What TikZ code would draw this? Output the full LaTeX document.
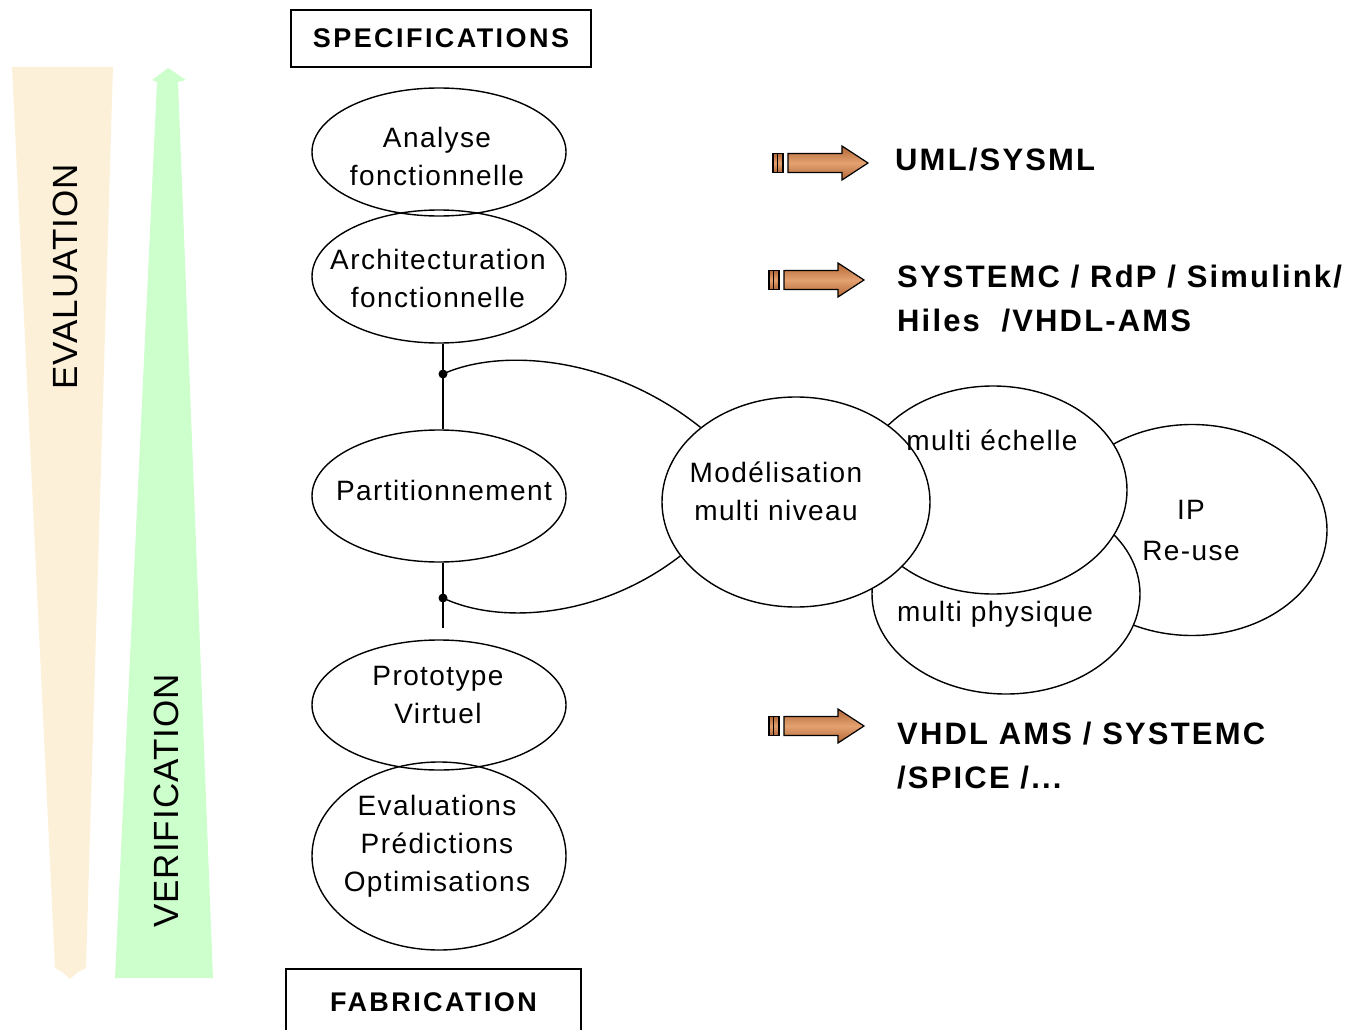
\documentclass[tikz,border=0pt]{standalone}
\usepackage{fontspec}
\setmainfont{Liberation Sans}
\newfontfamily\lsA[LetterSpace=5]{Liberation Sans}
\newfontfamily\lsB[LetterSpace=7]{Liberation Sans}
\newfontfamily\lsC[LetterSpace=9]{Liberation Sans}
\newfontfamily\lsD[LetterSpace=3]{Liberation Sans}
\usetikzlibrary{shapes.geometric}
\definecolor{beigebar}{RGB}{252,240,217}
\definecolor{greenbar}{RGB}{204,255,204}
\definecolor{brownA}{RGB}{178,102,54}
\definecolor{brownB}{RGB}{228,162,112}
\begin{document}
\begin{tikzpicture}[x=1pt,y=-1pt,
  lw/.style={line width=1.4pt},
  stage/.style={draw,lw,ellipse,minimum width=254,minimum height=#1,inner sep=0pt},
  bubble/.style={draw,lw,ellipse,fill=white,minimum width=#1,inner sep=0pt},
  stagetext/.style={align=center,inner sep=0pt,font=\lsA\fontsize{28}{38}\selectfont},
  tooltext/.style={align=left,anchor=west,inner sep=0pt,font=\lsB\fontsize{31}{44}\selectfont\bfseries},
  boxlabel/.style={draw,lw,inner sep=0pt,font=\lsC\fontsize{27}{30}\selectfont\bfseries},
  bartext/.style={rotate=90,inner sep=0pt,font=\lsD\fontsize{35}{40}\selectfont},
  barrow/.style={draw=black,line width=1.2pt,top color=brownA,bottom color=brownA,middle color=brownB,shading angle=0},
  dot/.style={fill=black}]
\useasboundingbox (0,0) rectangle (1352,1030);

% left bars
\fill[beigebar] (12,67) -- (113,67) -- (86,968) -- (78,972) -- (70,979) -- (62,972) -- (55,968) -- cycle;
\node[bartext] (evalT) at (65,277) {EVALUATION};
\fill[greenbar] (168,68) -- (186,80) -- (178,82) -- (213,978) -- (115,978) -- (157,82) -- (152,80) -- cycle;
\node[bartext] (verT) at (166,801) {VERIFICATION};

% boxes
\node[boxlabel,minimum width=300,minimum height=57] (spec) at (441,38.5) {SPECIFICATIONS};
\node[boxlabel,minimum width=295,minimum height=66] (fab) at (433.5,1002) {FABRICATION};

% left stages
\node[stage=128] (ana) at (439,152) {};
\node[stagetext] (anaT) at (437,156) {Analyse\\fonctionnelle};
\node[stage=133] (arch) at (439,276.5) {};
\node[stagetext] (archT) at (438,278) {Architecturation\\fonctionnelle};
\node[stage=132] (part) at (439,496) {};
\node[stagetext] (partT) at (444,490) {Partitionnement};
\node[stage=130] (proto) at (439,705) {};
\node[stagetext] (protoT) at (438,695) {Prototype\\Virtuel};
\node[stage=188] (evo) at (439,856) {};
\node[stagetext] (evoT) at (437,846) {Evaluations\\Prédictions\\Optimisations};

% connectors on the left
\coordinate (d1) at (443,374);
\coordinate (d2) at (443,598);
\coordinate (d2end) at (443,628);
\draw[lw] (d1 |- arch.south) -- (d1 |- part.north);
\draw[lw] (d2 |- part.south) -- (d2end);

% right bubbles
\node[bubble=270,minimum height=211] (ip) at (1192,530) {};
\node[bubble=268,minimum height=200] (phys) at (1006,594) {};
\node[bubble=268,minimum height=208] (ech) at (993,490) {};
\node[bubble=268,minimum height=210] (mod) at (796,502) {};
\node[stagetext] (modT) at (776,491.5) {Modélisation\\multi niveau};
\node[stagetext] (echT) at (992,440) {multi échelle};
\node[stagetext] (physT) at (995,614) {multi physique};
\node[stagetext,font=\lsA\fontsize{28}{41}\selectfont] (ipT) at (1191,530.5) {IP\\Re-use};

\draw[lw] (d1) .. controls (500,348) and (610,355) .. (mod.142);
\draw[lw] (d2) .. controls (500,625) and (600,618) .. (mod.205);
\fill[dot] (d1) circle (4.5);
\fill[dot] (d2) circle (4.5);

% brown arrows
\foreach \ax/\ay/\nm in {772/163/a1, 768/280/a2, 768/726/a3}{
  \begin{scope}[shift={(\ax,\ay)}]
    \draw[barrow] (1,-9.5) rectangle (11,9.5);
    \draw[line width=1.2pt] (5.5,-9.5) -- (5.5,9.5);
    \draw[barrow] (16,-9.5) -- (70,-9.5) -- (70,-17) -- (96,0) -- (70,17) -- (70,9.5) -- (16,9.5) -- cycle;
    \coordinate (\nm) at (96,0);
  \end{scope}
}

% tool labels
\node[tooltext] (uml) at (895,160) {UML/SYSML};
\node[tooltext] (sysc) at (897,299) {SYSTEMC / RdP / Simulink/\\Hiles \ /VHDL-AMS};
\node[tooltext] (vhdl) at (897,755.5) {VHDL AMS / SYSTEMC\\/SPICE /...};
\end{tikzpicture}
\end{document}
